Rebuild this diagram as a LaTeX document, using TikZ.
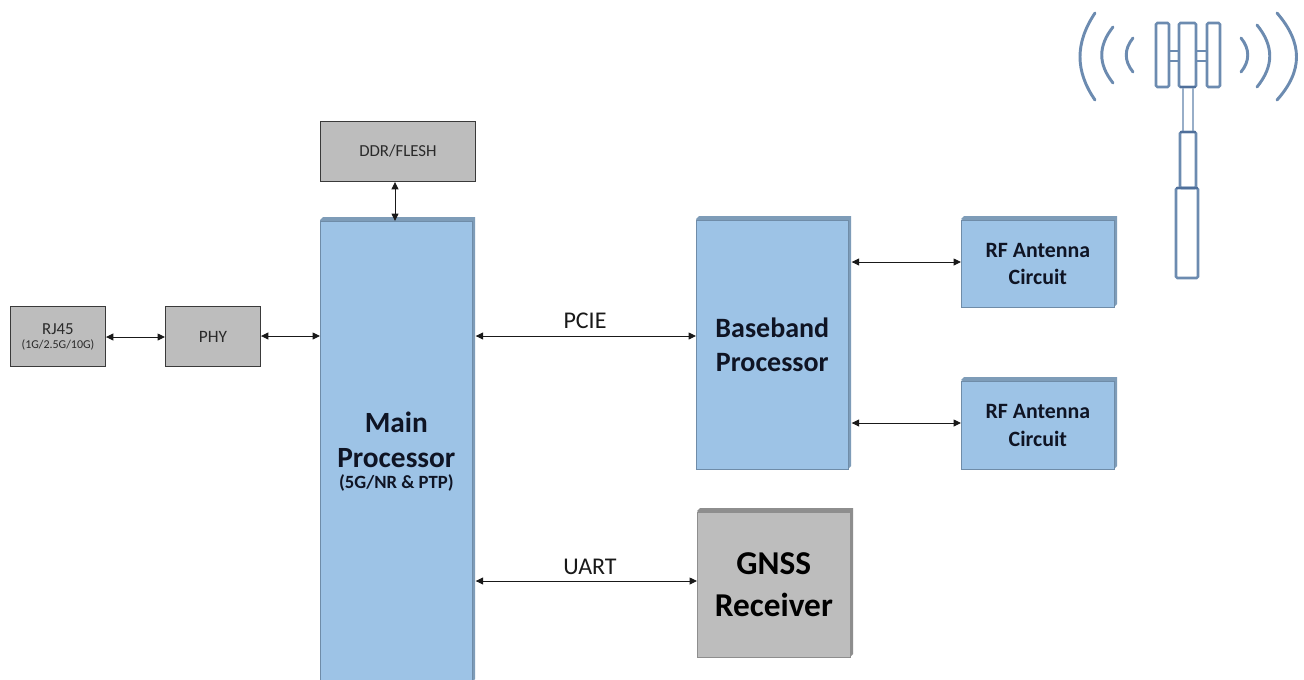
\documentclass[tikz,border=0pt]{standalone}
\usepackage{fontspec}
\setmainfont{Carlito}
\usetikzlibrary{arrows.meta,calc}
\definecolor{blueface}{HTML}{9DC3E6}
\definecolor{bluebevel}{HTML}{7E9CB8}
\definecolor{blueedge}{HTML}{6F8CA8}
\definecolor{grayface}{HTML}{BDBDBD}
\definecolor{graybevel}{HTML}{8E8E8E}
\definecolor{grayedge}{HTML}{3A3A3A}
\definecolor{inktext}{HTML}{0F1424}
\definecolor{graytext}{HTML}{2A2A2A}
\definecolor{mast}{HTML}{6C8BB0}
\definecolor{mastdark}{HTML}{4F6F9A}
\tikzset{
 x=0.75pt,y=-0.75pt,
 boxnode/.style={rectangle,inner sep=0pt,anchor=north west,align=center},
 blueplain/.style={boxnode,fill=blueface,draw=blueedge,line width=0.5pt,text=inktext},
 grayplain/.style={boxnode,fill=grayface,draw=grayedge,line width=0.7pt,text=graytext},
 graythick/.style={boxnode,fill=grayface,draw=graybevel,line width=0.5pt,text=black},
 link/.style={draw=black!90,line width=0.7pt,{Triangle[length=5.6pt,width=5.2pt]}-{Triangle[length=5.6pt,width=5.2pt]}},
 linklabel/.style={font=\fontsize{18}{21}\selectfont,text=black!90,inner sep=0pt},
 wave/.style={draw=mast,line width=2.2pt,line cap=round},
 tower/.style={draw=mast,line width=1.9pt,rounded corners=1pt},
 towerbar/.style={draw=mastdark,line width=2pt},
}
% name, x1, y1, x2, y2, style, bevel colour, text
\newcommand{\bevelbox}[8]{%
 \fill[#7] (#2,#3+3) -- (#2+3,#3) -- (#4,#3) -- (#4,#5-3) -- (#4-3,#5) -- cycle;
 \node[#6,minimum width=\fpeval{(#4-3-#2)*0.75}pt,minimum height=\fpeval{(#5-#3-4)*0.75}pt] (#1) at (#2,#3+4) {#8};
}
% size, leading, lines
\newcommand{\boldlines}[3]{\parbox{108pt}{\centering\bfseries\fontsize{#1}{#2}\selectfont #3\par}}
\begin{document}
\begin{tikzpicture}
\useasboundingbox (0,0) rectangle (1304,679);
\fill[white] (0,0) rectangle (1304,679);
% plain grey boxes
\node[grayplain,minimum width=116.25pt,minimum height=45pt,font=\fontsize{12.6}{15}\selectfont] (ddr) at (320,121) {DDR/FLESH};
\node[grayplain,minimum width=71.25pt,minimum height=45pt] (rj) at (10,306) {\parbox{70pt}{\centering\fontsize{12.6}{11}\selectfont RJ45\par\vspace{1.5pt}\fontsize{9}{9}\selectfont (1G/2.5G/10G)\par}};
\node[grayplain,minimum width=71.25pt,minimum height=45pt,font=\fontsize{13}{15}\selectfont] (phy) at (165,306) {PHY};
% bevelled boxes
\bevelbox{main}{320}{217}{475}{682}{blueplain}{bluebevel}{%
 \parbox{112pt}{\centering\bfseries\fontsize{22}{26}\selectfont Main\par Processor\par\vspace{1pt}\fontsize{14}{15}\selectfont (5G/NR \& PTP)\par}}
\bevelbox{bb}{696}{216}{851}{469}{blueplain}{bluebevel}{\boldlines{21}{25.7}{Baseband\\Processor}}
\bevelbox{rfa}{961}{216}{1117}{307}{blueplain}{bluebevel}{\boldlines{16.4}{20.5}{RF Antenna\\Circuit}}
\bevelbox{rfb}{961}{377}{1117}{469}{blueplain}{bluebevel}{\boldlines{16.4}{20.5}{RF Antenna\\Circuit}}
\bevelbox{gnss}{697}{508}{853}{657}{graythick}{graybevel}{\raisebox{-1.5pt}{\boldlines{25}{31}{GNSS\\Receiver}}}
% connector levels
\coordinate (ddrx) at (395,200);
\coordinate (ethy) at (300,337);
\coordinate (phyy) at (300,336);
\coordinate (pciey) at (590,336);
\coordinate (uarty) at (590,581);
\coordinate (rfay) at (900,262);
\coordinate (rfby) at (900,423);
% connectors
\draw[link] (ddrx |- ddr.south) -- (ddrx |- main.north);
\draw[link] (ethy -| rj.east) -- (ethy -| phy.west);
\draw[link] (phyy -| phy.east) -- (phyy -| main.west);
\draw[link] (pciey -| main.east) ++(3,0) -- (pciey -| bb.west);
\draw[link] (uarty -| main.east) ++(3,0) -- (uarty -| gnss.west);
\draw[link] (rfay -| bb.east) ++(3,0) -- (rfay -| rfa.west);
\draw[link] (rfby -| bb.east) ++(3,0) -- (rfby -| rfb.west);
\node[linklabel] (pcielabel) at (585,321) {PCIE};
\node[linklabel] (uartlabel) at (590,567) {UART};
% antenna
\draw[tower] (1156,23) rectangle (1169,87);
\draw[tower] (1179,23) rectangle (1196,87);
\draw[tower] (1207,23) rectangle (1220,87);
\draw[tower] (1169,51) -- (1179,51) (1169,61) -- (1179,61);
\draw[tower] (1196,51) -- (1207,51) (1196,61) -- (1207,61);
\draw[draw=mast!70,line width=1.8pt] (1183,87) -- (1183,132) (1193,87) -- (1193,132);
\draw[tower] (1180,132) rectangle (1196,188);
\draw[tower] (1176,188) rectangle (1198,278);
\draw[towerbar] (1180,87) -- (1196,87);
\draw[towerbar] (1180,132) -- (1196,132);
\draw[towerbar] (1176,188) -- (1198,188);
\draw[wave] (1095,13) .. controls (1075,43) and (1075,71) .. (1095,100);
\draw[wave] (1113,27) .. controls (1098,46) and (1098,64) .. (1113,83);
\draw[wave] (1133,38) .. controls (1124,49) and (1124,61) .. (1133,72);
\draw[wave] (1241,38) .. controls (1250,49) and (1250,61) .. (1241,72);
\draw[wave] (1257,25) .. controls (1274,46) and (1274,66) .. (1257,87);
\draw[wave] (1277,13) .. controls (1303,43) and (1303,71) .. (1277,100);
\end{tikzpicture}
\end{document}
